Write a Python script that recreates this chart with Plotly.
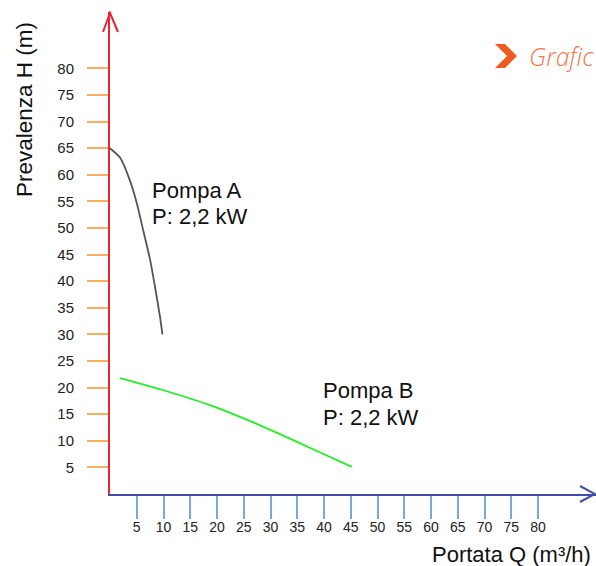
import plotly.graph_objects as go

# Data
pump_a_q = [0, 1.9, 3.7, 5.0, 6.2, 7.5, 8.4, 9.35, 9.8]
pump_a_h = [65, 63.2, 59.0, 54.7, 49.6, 44.0, 39.0, 33.3, 30]
pump_b_q = [1.9, 10, 18.7, 26.2, 33, 39.3, 45.2]
pump_b_h = [21.8, 19.5, 16.7, 13.7, 10.7, 7.8, 5.1]
tick_vals = list(range(5, 85, 5))
label_a = ["Pompa A", "P: 2,2 kW"]
label_b = ["Pompa B", "P: 2,2 kW"]

W, H = 596, 566
L, R, T, B = 110, 0, 12, 72
pw, ph = W - L - R, H - T - B
xpx, ypx = 5.35, 5.32
xmax = pw / xpx
ymax = ph / ypx

def px(x):
    return (x - L) / pw

def py(y):
    return (H - B - y) / ph

def dx(x):
    return (x - L) / xpx

def dy(y):
    return (H - B - y) / ypx

fig = go.Figure()
fig.add_trace(go.Scatter(x=pump_a_q, y=pump_a_h, mode="lines",
                         line=dict(color="#555555", width=1.8, shape="spline", smoothing=0.6),
                         hoverinfo="skip", showlegend=False))
fig.add_trace(go.Scatter(x=pump_b_q, y=pump_b_h, mode="lines",
                         line=dict(color="#22EE22", width=1.8, shape="spline", smoothing=1.0),
                         hoverinfo="skip", showlegend=False))

font_family = "Liberation Sans, Arial, sans-serif"

fig.update_layout(
    width=W, height=H,
    margin=dict(l=L, r=R, t=T, b=B, pad=0),
    plot_bgcolor="white", paper_bgcolor="white",
    font=dict(family=font_family, color="#222222", size=14),
    showlegend=False,
    xaxis=dict(range=[0, xmax], showgrid=False, zeroline=False,
               showline=True, linecolor="#3F4FA8", linewidth=2,
               tickmode="array", tickvals=tick_vals, ticktext=[str(v) for v in tick_vals],
               ticks="outside", ticklen=23, tickwidth=2, tickcolor="#7AAAD8",
               ticklabelstandoff=-4,
               tickfont=dict(size=14, color="#222222"), fixedrange=True),
    yaxis=dict(range=[0, ymax], showgrid=False, zeroline=False,
               showline=True, linecolor="#EE2233", linewidth=2,
               tickmode="array", tickvals=tick_vals, ticktext=[str(v) for v in tick_vals],
               ticks="outside", ticklen=21, tickwidth=2, tickcolor="#F7B060",
               ticklabelstandoff=10,
               tickfont=dict(size=15, color="#222222"), fixedrange=True),
)

# Arrow heads
fig.add_shape(type="path", xref="paper", yref="paper",
              path=f"M {px(103)} {py(32)} L {px(110)} {py(13)} L {px(118)} {py(32)}",
              line=dict(color="#EE2233", width=2))
fig.add_shape(type="path", xref="paper", yref="paper",
              path=f"M {px(580)} {py(486)} L {px(595)} {py(494)} L {px(580)} {py(502)}",
              line=dict(color="#3F4FA8", width=2))

# Pump labels (one annotation per line)
for line, yy in zip(label_a, [190, 216]):
    fig.add_annotation(x=dx(150), y=dy(yy), xref="x", yref="y", xanchor="left", yanchor="middle",
                       text=line, showarrow=False, align="left",
                       font=dict(size=22, color="#111111", family=font_family))
for line, yy in zip(label_b, [390, 417]):
    fig.add_annotation(x=dx(321), y=dy(yy), xref="x", yref="y", xanchor="left", yanchor="middle",
                       text=line, showarrow=False, align="left",
                       font=dict(size=22, color="#111111", family=font_family))

# Axis titles
fig.add_annotation(x=px(24), y=py(110), xref="paper", yref="paper",
                   text="Prevalenza H (m)", textangle=-90, showarrow=False,
                   xanchor="center", yanchor="middle",
                   font=dict(size=22.5, color="#111111", family=font_family))
fig.add_annotation(x=px(593), y=py(554), xref="paper", yref="paper",
                   text="Portata Q (m³/h)", showarrow=False,
                   xanchor="right", yanchor="middle",
                   font=dict(size=22, color="#111111", family=font_family))

# Logo
fig.add_shape(type="path", xref="paper", yref="paper",
              path=(f"M {px(495)} {py(44)} L {px(505)} {py(44)} L {px(517)} {py(56)} "
                    f"L {px(505)} {py(68)} L {px(495)} {py(68)} L {px(507)} {py(56)} Z"),
              fillcolor="#EE5A24", line=dict(width=0))
fig.add_annotation(x=px(527), y=py(56), xref="paper", yref="paper",
                   text="<i>Grafic</i>", showarrow=False, xanchor="left", yanchor="middle",
                   font=dict(size=25, color="#EF7A4A", family="Open Sans, sans-serif", weight=300))

fig.write_html("out.html", config={"displayModeBar": False},
               post_script="document.body.style.margin='0';")
